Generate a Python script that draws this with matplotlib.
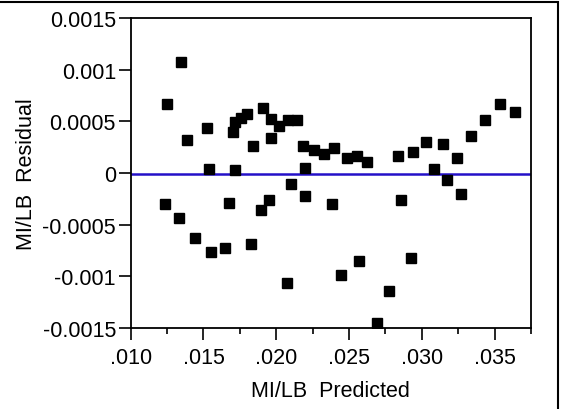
import numpy as np
import matplotlib.pyplot as plt
from matplotlib.patches import Rectangle

plt.rcParams['font.family'] = ['Liberation Sans', 'DejaVu Sans']

# predicted values and residuals
predicted = [
    0.01247, 0.01343, 0.01385, 0.01522, 0.01536, 0.01701, 0.01716, 0.01755,
    0.01797, 0.01716, 0.01838, 0.01907, 0.01962, 0.01962, 0.02016, 0.02084,
    0.02140, 0.02181, 0.02194, 0.02262, 0.02331, 0.02400, 0.02484, 0.02552,
    0.02621, 0.02839, 0.02937, 0.03032, 0.03143, 0.03239, 0.03087, 0.03335,
    0.03431, 0.03540, 0.03637,
    0.01233, 0.01330, 0.01440, 0.01549, 0.01646, 0.01673, 0.01824, 0.01893,
    0.01948, 0.02071, 0.02099, 0.02195, 0.02380, 0.02854, 0.02566, 0.02442,
    0.02923, 0.02772, 0.02690, 0.03170, 0.03266,
]
residual = [
    0.000668, 0.001076, 0.000318, 0.000435, 0.000034, 0.000400, 0.000493, 0.000532,
    0.000568, 0.000031, 0.000260, 0.000629, 0.000520, 0.000342, 0.000454, 0.000513,
    0.000513, 0.000260, 0.000047, 0.000221, 0.000183, 0.000241, 0.000144, 0.000167,
    0.000105, 0.000163, 0.000202, 0.000299, 0.000280, 0.000144, 0.000034, 0.000357,
    0.000513, 0.000668, 0.000590,
    -0.000303, -0.000439, -0.000633, -0.000769, -0.000730, -0.000290, -0.000691, -0.000361,
    -0.000264, -0.001060, -0.000109, -0.000225, -0.000300, -0.000264, -0.000847, -0.000983,
    -0.000827, -0.001138, -0.001455, -0.000065, -0.000206,
]
mean_residual = -0.0000135

xticks = [0.010, 0.015, 0.020, 0.025, 0.030, 0.035]
xtick_labels = [".010", ".015", ".020", ".025", ".030", ".035"]
yticks = [-0.0015, -0.001, -0.0005, 0, 0.0005, 0.001, 0.0015]
ytick_labels = ["-0.0015", "-0.001", "-0.0005", "0", "0.0005", "0.001", "0.0015"]

fig = plt.figure(figsize=(5.62, 4.10), dpi=100)
ax = fig.add_axes([0.2326, 0.1976, 0.7122, 0.7561])

ax.axhline(mean_residual, color="#2410c8", lw=1.8, zorder=1)
ax.plot(predicted, residual, ls="none", marker="s", ms=7.2, color="black",
        mec="black", zorder=2)

ax.set_xlim(0.010, 0.0375)
ax.set_ylim(-0.0015, 0.0015)
ax.set_xticks(xticks)
ax.set_xticklabels(xtick_labels)
ax.set_xticks(np.arange(0.0125, 0.0376, 0.005), minor=True)
ax.set_yticks(yticks)
ax.set_yticklabels(ytick_labels)

for s in ax.spines.values():
    s.set_linewidth(1.3)
ax.tick_params(axis="both", which="major", length=8.6, width=1.2,
               labelsize=15.5, direction="out", pad=2)
ax.tick_params(axis="x", which="minor", length=4.3, width=1.2)
ax.tick_params(axis="x", which="major", pad=5)

ax.set_xlabel("MI/LB  Predicted", fontsize=15.5, labelpad=9)
ax.set_ylabel("MI/LB  Residual", fontsize=15.5, labelpad=4)

# outer frame, partly cut off on the left and bottom
fig.patches.append(Rectangle((-0.02, -0.02), 558 / 562 + 0.02, 1 - 3 / 410 + 0.02,
                             transform=fig.transFigure, fill=False,
                             lw=1.5, ec="black"))

fig.savefig("out.png", dpi=100)
